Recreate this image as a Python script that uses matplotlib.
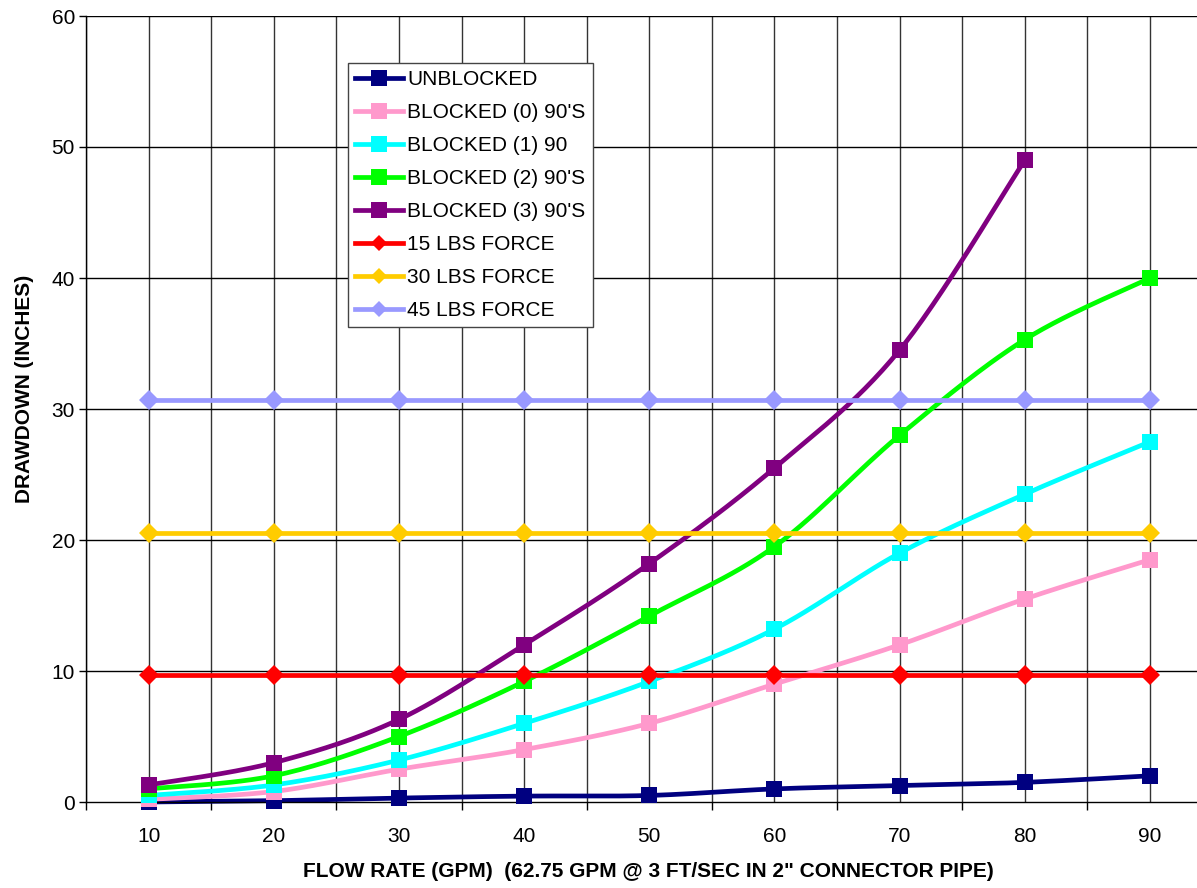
import numpy as np
import matplotlib
matplotlib.use("Agg")
import matplotlib.pyplot as plt

# Flow rate categories (GPM)
flow = [10, 20, 30, 40, 50, 60, 70, 80, 90]

# Drawdown (inches) for each configuration
unblocked = [0.0, 0.1, 0.3, 0.45, 0.5, 1.0, 1.25, 1.5, 2.0]
blocked_0 = [0.2, 0.8, 2.5, 4.0, 6.0, 9.0, 12.0, 15.5, 18.5]
blocked_1 = [0.5, 1.3, 3.2, 6.0, 9.2, 13.2, 19.0, 23.5, 27.5]
blocked_2 = [1.0, 2.0, 5.0, 9.2, 14.2, 19.5, 28.0, 35.3, 40.0]
blocked_3 = [1.3, 3.0, 6.3, 12.0, 18.2, 25.5, 34.5, 49.0]
force_15 = [9.7] * 9
force_30 = [20.5] * 9
force_45 = [30.7] * 9

labels = ["UNBLOCKED", "BLOCKED (0) 90'S", "BLOCKED (1) 90", "BLOCKED (2) 90'S",
          "BLOCKED (3) 90'S", "15 LBS FORCE", "30 LBS FORCE", "45 LBS FORCE"]
colors = ["#000080", "#FF99CC", "#00FFFF", "#00FF00", "#800080",
          "#FF0000", "#FFCC00", "#9999FF"]
markers = ["s", "s", "s", "s", "s", "D", "D", "D"]
series = [unblocked, blocked_0, blocked_1, blocked_2, blocked_3,
          force_15, force_30, force_45]
smooth = [True, True, True, True, True, False, False, False]

plt.rcParams["font.family"] = ["Liberation Sans", "DejaVu Sans"]


def catmull_rom(x, y, n=30):
    """Smooth curve through the points (Catmull-Rom / Bezier style)."""
    x = np.asarray(x, float)
    y = np.asarray(y, float)
    if len(x) < 3:
        return x, y
    px = np.concatenate([[x[0]], x, [x[-1]]])
    py = np.concatenate([[y[0]], y, [y[-1]]])
    xs, ys = [], []
    t = np.linspace(0, 1, n)
    for i in range(1, len(px) - 2):
        p0, p1, p2, p3 = (np.array([px[j], py[j]]) for j in (i - 1, i, i + 1, i + 2))
        c1 = p1 + (p2 - p0) / 6.0
        c2 = p2 - (p3 - p1) / 6.0
        b = ((1 - t) ** 3)[:, None] * p1 + (3 * (1 - t) ** 2 * t)[:, None] * c1 \
            + (3 * (1 - t) * t ** 2)[:, None] * c2 + (t ** 3)[:, None] * p2
        xs.append(b[:, 0])
        ys.append(b[:, 1])
    return np.concatenate(xs), np.concatenate(ys)


W, H = 1197, 888
fig = plt.figure(figsize=(W / 100, H / 100), dpi=100)
left, right, top, bottom = 86, 1212.6, 16, 802
ax = fig.add_axes([left / W, (H - bottom) / H, (right - left) / W, (bottom - top) / H])

ax.set_xlim(5, 95)
ax.set_ylim(0, 60)

# grid: category centres and category boundaries
for gx in np.arange(5, 96, 5):
    ax.axvline(gx, color="#333333", lw=1.0, zorder=0)
for gy in np.arange(10, 61, 10):
    ax.axhline(gy, color="#000000", lw=1.0, zorder=0)

handles = []
for vals, lab, col, mk, sm in zip(series, labels, colors, markers, smooth):
    xv = flow[:len(vals)]
    if sm:
        cx, cy = catmull_rom(xv, vals)
    else:
        cx, cy = xv, vals
    ax.plot(cx, cy, color=col, lw=3.4, solid_capstyle="butt", zorder=2, clip_on=False)
    ms = 11.5 if mk == "s" else 10.5
    ax.plot(xv, vals, linestyle="none", marker=mk, markersize=ms, color=col,
            markeredgewidth=0, zorder=3, clip_on=False)
    h, = ax.plot([], [], color=col, lw=3.4, marker=mk,
                 markersize=11 if mk == "s" else 8, markeredgewidth=0)
    handles.append(h)

for s in ["top", "right"]:
    ax.spines[s].set_visible(False)
ax.spines["left"].set_color("black")
ax.spines["bottom"].set_color("black")
ax.spines["left"].set_linewidth(1.0)
ax.spines["bottom"].set_linewidth(1.0)

ax.set_yticks(np.arange(0, 61, 10))
ax.tick_params(axis="y", length=5, width=1, pad=3, labelsize=15)
ax.set_xticks(flow)
ax.set_xticks(np.arange(5, 96, 10), minor=True)
ax.tick_params(axis="x", which="major", length=0, pad=18, labelsize=15)
ax.tick_params(axis="x", which="minor", length=6, width=1)

ax.set_xlabel("FLOW RATE (GPM)  (62.75 GPM @ 3 FT/SEC IN 2\" CONNECTOR PIPE)",
              fontsize=15, fontweight="bold")
ax.xaxis.set_label_coords((648 - left) / (right - left), -(871 - bottom) / (bottom - top))
ax.xaxis.label.set_va("center")
ax.set_ylabel("DRAWDOWN (INCHES)", fontsize=15, fontweight="bold")
ax.yaxis.set_label_coords(-(left - 25) / (right - left), (bottom - 389) / (bottom - top))
ax.yaxis.label.set_va("center")

leg = ax.legend(handles, labels, loc="upper left",
                bbox_to_anchor=((348 - left) / (right - left), (bottom - 63) / (bottom - top)),
                fontsize=15, frameon=True, fancybox=False, shadow=False,
                borderaxespad=0, handlelength=2.3, handletextpad=0.2,
                labelspacing=0.67, borderpad=0.35, numpoints=1)
leg.get_frame().set_edgecolor("#444444")
leg.get_frame().set_linewidth(1.0)
leg.get_frame().set_alpha(1)
leg.set_zorder(5)

fig.savefig("out.png", dpi=100)
